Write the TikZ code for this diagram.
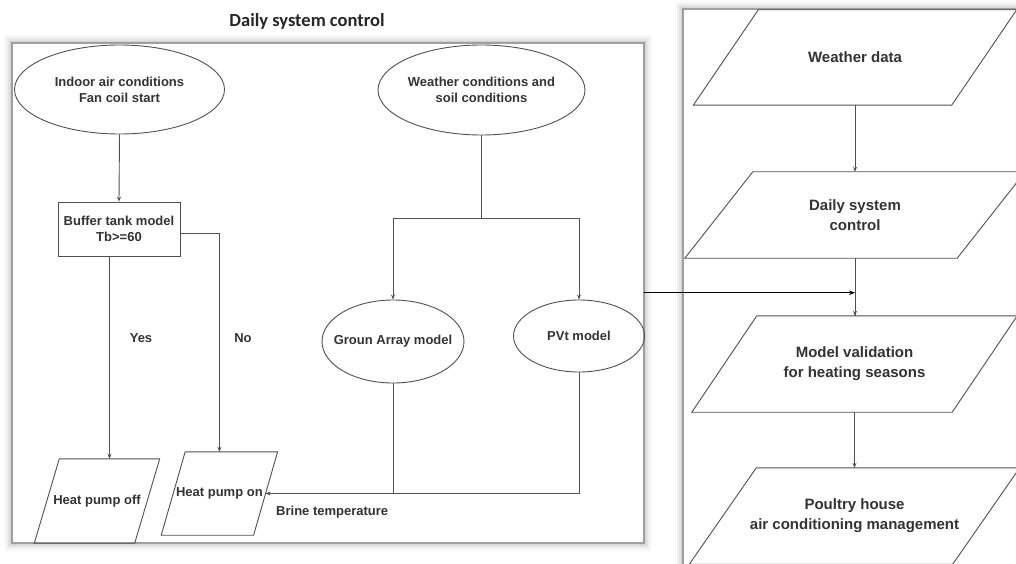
\documentclass[tikz,border=0pt]{standalone}
\usepackage{fontspec}
\setmainfont{Liberation Sans}
\newfontfamily\titlefont{Carlito}
\usetikzlibrary{shapes.geometric,arrows.meta,calc}
\definecolor{txt}{HTML}{333333}
\definecolor{ln}{HTML}{505050}
\newcommand{\mypara}[7]{%
  \node[#6, minimum width=#3pt, minimum height=#4pt] (#1) at #2 {#7};
  \draw[shapeline] ($(#1.north west)+(#5/2,0)$) -- ($(#1.north east)+(#5/2,0)$) -- ($(#1.south east)+(-#5/2,0)$) -- ($(#1.south west)+(-#5/2,0)$) -- cycle;}
\newcommand{\mypanel}[4]{%
  \foreach \w/\o in {16/0.025,12/0.035,8/0.05,4/0.07}{\draw[line width=\w pt, black, opacity=\o] (#1,#2) rectangle (#3,#4);}
  \fill[white] (#1,#2) rectangle (#3,#4);
  \draw[draw=gray!75, line width=1.2pt] (#1,#2) rectangle (#3,#4);}
\begin{document}
\begin{tikzpicture}[x=1pt,y=-1pt,
  lbl/.style={font=\bfseries\fontsize{13}{16}\selectfont, text=txt, align=center, inner sep=0pt},
  rlbl/.style={font=\bfseries\fontsize{15}{20}\selectfont, text=txt, align=center, inner sep=0pt},
  shapeline/.style={draw=ln, line width=0.9pt},
  conn/.style={draw=ln, line width=0.9pt, -{Stealth[length=5pt,width=4pt]}},
  plain/.style={draw=ln, line width=0.9pt},
  oval/.style={ellipse, draw=ln, line width=0.9pt, inner sep=0pt},
]
\useasboundingbox (0,0) rectangle (1016,564);
\clip (0,0) rectangle (1016,564);
\fill[white] (0,0) rectangle (1016,564);

% panels
\mypanel{12}{43}{644}{543}
\mypanel{683}{9}{1040}{600}
\node[inner sep=0pt, minimum width=632pt, minimum height=500pt] (lp) at (328,293) {};

% title
\node[font=\titlefont\bfseries\fontsize{18.5}{22}\selectfont, text=black!85, inner sep=0pt] (title) at (307,21) {Daily system control};

% left panel nodes
\node[oval, minimum width=210pt, minimum height=89pt] (indoor) at (119.5,89.5) {};
\node[lbl] (indoort) at (indoor) {Indoor air conditions\\Fan coil start};
\node[oval, minimum width=207pt, minimum height=90pt] (weather) at (481.5,90) {};
\node[lbl] (weathert) at (weather) {Weather conditions and\\soil conditions};
\node[draw=ln, line width=0.9pt, minimum width=122pt, minimum height=54pt, lbl] (buffer) at (119,229) {Buffer tank model\\Tb>=60};
\node[oval, minimum width=142pt, minimum height=83pt] (ga) at (393,341.5) {};
\node[lbl] (gat) at (ga) {Groun Array model};
\node[oval, minimum width=131pt, minimum height=72pt] (pvt) at (579,336) {};
\node[lbl] (pvtt) at (pvt) {PVt model};

\mypara{hpoff}{(97,501)}{100}{84}{25}{lbl}{Heat pump off}
\mypara{hpon}{(219.4,493.5)}{92}{83}{24}{lbl}{Heat pump on}

\node[lbl] (yes) at (141,338) {Yes};
\node[lbl] (no) at (243,338) {No};
\node[lbl, anchor=west] (brine) at (276,512) {Brine temperature};

% left connectors
\draw[conn] (indoor.south) -- (buffer.north);
\coordinate (hpofftop) at ($(hpoff.north)+(12.5,0)$);
\draw[conn] (buffer.south -| hpofftop) -- (hpofftop);
\coordinate (bufr) at ($(buffer.east)+(0,4)$);
\draw[conn] (bufr) -| (hpon.north);
\coordinate (split) at (481.5,218);
\draw[plain] (weather.south) -- (split);
\draw[conn] (split) -| (ga.north);
\draw[conn] (split) -| (pvt.north);
\draw[plain] (ga.south) -- (ga.south |- hpon.east);
\draw[conn] (pvt.south) |- (hpon.east);

% right panel nodes
\mypara{wd}{(855,57.5)}{258}{95}{65}{rlbl}{Weather data}
\mypara{dsc}{(855,215)}{272}{86}{68}{rlbl}{Daily system\\control}
\mypara{mv}{(854.5,364)}{260}{96}{65}{rlbl}{Model validation\\for heating seasons}
\mypara{ph}{(854.5,516)}{263}{96}{67}{rlbl}{Poultry house\\air conditioning management}

\draw[conn] (wd.south) -- (wd.south |- dsc.north);
\draw[plain] (dsc.south) -- (dsc.south |- mv.north);
\draw[conn] ($(dsc.south)!0.6!(dsc.south |- mv.north)$) -- (dsc.south |- mv.north);
\draw[conn] (mv.south) -- (mv.south |- ph.north);

\coordinate (join) at ($(dsc.south)!0.6!(dsc.south |- mv.north)$);
\draw[black, line width=1.3pt, -{Stealth[length=6pt,width=4.5pt]}] (lp.east |- join) -- (join);
\end{tikzpicture}
\end{document}
